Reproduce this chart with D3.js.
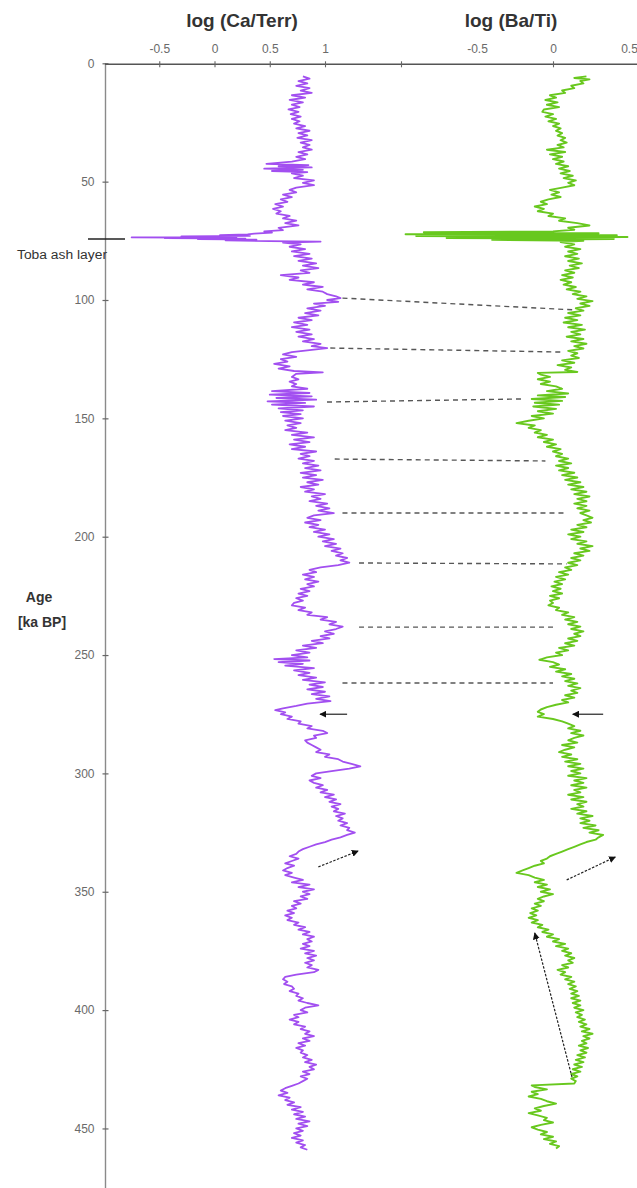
<!DOCTYPE html>
<html>
<head>
<meta charset="utf-8">
<script src="https://cdn.jsdelivr.net/npm/d3@7"></script>
<style>
  html, body { margin: 0; padding: 0; background: #fff; }
  svg { display: block; }
  text { font-family: "Liberation Sans", Arial, sans-serif; }
</style>
</head>
<body>
<svg id="chart" width="637" height="1188"></svg>
<script>
// Age-depth profile of two XRF ratios: log(Ca/Terr) and log(Ba/Ti)
// Each record: [age (ka BP), log ratio]
const caTerr = [
  [5.5,0.80],[6.5,0.86],[7.5,0.76],[8.5,0.84],[9.5,0.74],[10.5,0.86],[11.5,0.78],[12.5,0.88],[13.5,0.70],[14.5,0.82],
  [15.5,0.68],[16.5,0.80],[17.5,0.70],[18.5,0.77],[19.5,0.67],[20.5,0.76],[21.5,0.69],[22.5,0.78],[23.5,0.70],[24.5,0.77],
  [25.5,0.72],[26.5,0.82],[27.5,0.74],[28.5,0.86],[29.5,0.76],[30.5,0.84],[31.5,0.75],[32.5,0.88],[33.5,0.78],[34.5,0.86],
  [35.5,0.80],[36.5,0.88],[37.5,0.76],[38.5,0.84],[39.5,0.74],[40.5,0.82],[41.5,0.70],[42.5,0.47],[43,0.85],[43.5,0.58],
  [44,0.88],[44.5,0.45],[45,0.80],[45.5,0.52],[46,0.84],[46.5,0.70],[47.5,0.80],[48.5,0.72],[49.5,0.90],[50.5,0.80],
  [51.5,0.90],[52.5,0.74],[53.5,0.68],[54.5,0.74],[55.5,0.62],[56.5,0.70],[57.5,0.60],[58.5,0.66],[59.5,0.55],[60.5,0.62],
  [61.5,0.53],[62.5,0.60],[63.5,0.56],[64.5,0.68],[65.5,0.62],[66.5,0.74],[67.5,0.64],[68.5,0.76],[69.5,0.58],[70.5,0.62],
  [71,0.45],[71.5,0.52],[72,0.36],[72.3,0.30],[72.6,0.05],[72.9,0.32],[73.1,-0.30],[73.3,0.20],[73.5,-0.75],[73.7,0.10],
  [73.9,-0.45],[74.1,0.28],[74.3,-0.15],[74.5,0.38],[74.8,0.10],[75.1,0.50],[75.3,0.96],
  [75.8,0.62],[76.5,0.78],[77.5,0.68],[78.5,0.82],[79.5,0.70],[80.5,0.86],[81.5,0.72],[82.5,0.88],[83.5,0.76],[84.5,0.92],
  [85.5,0.80],[86.5,0.94],[87.5,0.78],[88.5,0.86],[89.5,0.60],[90.5,0.76],[91.5,0.68],[92.5,0.90],[93.5,0.80],[94.5,0.98],
  [95.5,0.84],[96.5,0.98],[97.5,1.02],[98.5,1.10],[99.2,1.14],[100,1.02],[100.8,1.12],[101.5,0.90],[102.5,1.00],[103.5,0.84],
  [104.5,0.96],[105.5,0.82],[106.5,0.94],[107.5,0.76],[108.5,0.88],[109.5,0.72],[110.5,0.84],[111.5,0.70],[112.5,0.86],[113.5,0.74],
  [114.5,0.88],[115.5,0.76],[116.5,0.90],[117.5,0.80],[118.5,0.96],[119.5,0.88],[120.3,1.02],[121,0.90],[122,0.70],[123,0.62],
  [124,0.74],[125,0.60],[126,0.66],[127,0.54],[128,0.68],[129,0.58],[130,0.72],[130.6,0.98],[131.2,0.74],[132.5,0.70],
  [133.5,0.76],[134.5,0.68],[135.5,0.74],[136.5,0.70],[137.5,0.84],[138.5,0.52],[139.3,0.86],[140,0.50],[140.7,0.88],[141.4,0.56],
  [142.1,0.92],[142.8,0.48],[143.5,0.82],[144.2,0.52],[145,0.90],[145.8,0.58],[146.6,0.80],[147.4,0.60],[148.2,0.78],[149,0.62],
  [150,0.80],[151,0.64],[152,0.78],[153,0.66],[154,0.74],[155,0.64],[156,0.84],[157,0.70],[158,0.90],[159,0.72],
  [160,0.86],[161,0.68],[162,0.82],[163,0.70],[164,0.92],[165,0.78],[166,0.86],[167,0.76],[168,0.90],[169,0.80],
  [170,0.94],[171,0.82],[172,0.96],[173,0.78],[174,0.92],[175,0.80],[176,0.98],[177,0.84],[178,0.94],[179,0.78],
  [180,0.90],[181,0.82],[182,1.00],[183,0.88],[184,0.96],[185,0.86],[186,1.02],[187,0.92],[188,1.04],[189,0.94],
  [190,1.08],[191,0.90],[192,0.84],[193,0.96],[194,0.82],[195,0.94],[196,0.86],[197,1.00],[198,0.90],[199,1.04],
  [200,0.94],[201,1.08],[202,0.98],[203,1.10],[204,1.00],[205,1.14],[206,1.06],[207,1.16],[208,1.10],[209,1.20],
  [210,1.14],[211,1.22],[212,1.12],[213,0.96],[214,0.86],[215,0.92],[216,0.80],[217,0.90],[218,0.82],[219,0.94],
  [220,0.84],[221,0.90],[222,0.78],[223,0.86],[224,0.76],[225,0.84],[226,0.74],[227,0.80],[228,0.72],[229,0.70],
  [230,0.82],[231,0.76],[232,0.88],[233,0.84],[234,1.02],[235,0.96],[236,1.10],[237,1.04],[238,1.16],[239,1.10],
  [240,1.00],[241,1.08],[242,0.96],[243,1.04],[244,0.88],[245,0.98],[246,0.80],[247,0.92],[248,0.74],[249,0.86],
  [250,0.70],[251,0.84],[251.7,0.54],[252.3,0.86],[253,0.58],[253.7,0.80],[254.5,0.64],[255.5,0.90],[256.5,0.72],[257.5,0.86],
  [258.5,0.76],[259.5,0.92],[260.5,0.80],[261.5,1.00],[262.5,0.86],[263.5,0.98],[264.5,0.84],[265.5,1.00],[266.5,0.88],[267.5,1.04],
  [268.5,0.92],[269.5,1.05],[270.5,0.84],[271.5,0.74],[272.5,0.62],[273.3,0.55],[274.2,0.64],[275,0.60],[276,0.70],[277,0.66],
  [278,0.78],[279,0.76],[280,0.88],[281,0.84],[282,0.98],[283,1.02],[284,0.90],[285,0.92],[286,0.82],[287,0.84],
  [288,0.88],[289,0.92],[290,0.96],[291,0.92],[292,1.04],[293,1.00],[294,1.12],[295,1.16],[296,1.24],[297,1.32],
  [298,1.22],[299,1.06],[300,0.92],[301,0.88],[302,0.96],[303,0.86],[304,0.90],[305,0.98],[306,0.92],[307,1.02],
  [308,0.96],[309,1.08],[310,1.00],[311,1.10],[312,1.04],[313,1.14],[314,1.06],[315,1.12],[316,1.08],[317,1.18],
  [318,1.10],[319,1.16],[320,1.12],[321,1.20],[322,1.14],[323,1.22],[324,1.20],[325,1.27],[326,1.20],[327,1.14],
  [328,1.06],[329,1.00],[330,0.92],[331,0.86],[332,0.80],[333,0.76],[334,0.74],[335,0.68],[336,0.76],[337,0.70],
  [338,0.64],[339,0.72],[340,0.66],[341,0.62],[342,0.70],[343,0.64],[344,0.72],[345,0.80],[346,0.70],[347,0.86],
  [348,0.76],[349,0.90],[350,0.80],[351,0.86],[352,0.78],[353,0.84],[354,0.72],[355,0.78],[356,0.70],[357,0.74],
  [358,0.66],[359,0.72],[360,0.64],[361,0.70],[362,0.66],[363,0.76],[364,0.72],[365,0.82],[366,0.76],[367,0.86],
  [368,0.80],[369,0.90],[370,0.84],[371,0.88],[372,0.80],[373,0.86],[374,0.78],[375,0.90],[376,0.82],[377,0.92],
  [378,0.84],[379,0.90],[380,0.82],[381,0.88],[382,0.84],[383,0.94],[384,0.90],[385,0.74],[386,0.64],[387,0.62],
  [388,0.66],[389,0.63],[390,0.70],[391,0.72],[392,0.68],[393,0.76],[394,0.74],[395,0.80],[396,0.76],[397,0.84],
  [398,0.94],[399,0.82],[400,0.78],[401,0.84],[402,0.72],[403,0.76],[404,0.68],[405,0.76],[406,0.72],[407,0.82],
  [408,0.78],[409,0.86],[410,0.82],[411,0.90],[412,0.80],[413,0.86],[414,0.76],[415,0.82],[416,0.74],[417,0.80],
  [418,0.78],[419,0.84],[420,0.80],[421,0.88],[422,0.82],[423,0.92],[424,0.86],[425,0.90],[426,0.80],[427,0.86],
  [428,0.78],[429,0.84],[430,0.80],[431,0.76],[432,0.70],[433,0.64],[434,0.60],[435,0.66],[436,0.58],[437,0.68],
  [438,0.64],[439,0.72],[440,0.66],[441,0.78],[442,0.70],[443,0.80],[444,0.72],[445,0.82],[446,0.74],[447,0.86],
  [448,0.76],[449,0.84],[450,0.74],[451,0.80],[452,0.72],[453,0.78],[454,0.70],[455,0.80],[456,0.74],[457,0.82],
  [458,0.78],[459,0.84]
];

const baTi = [
  [5.5,0.22],[6.2,0.14],[6.8,0.24],[7.5,0.18],[8.5,0.20],[9.5,0.12],[10.5,0.14],[11.5,0.06],[12.5,0.08],[13.5,-0.02],
  [14.5,0.02],[15.5,-0.05],[16.5,0.03],[17.5,-0.04],[18.5,0.04],[19.5,-0.06],[20.5,-0.07],[21.5,0.00],[22.5,-0.05],[23.5,0.02],
  [24.5,-0.03],[25.5,0.04],[26.5,0.00],[27.5,0.05],[28.5,0.02],[29.5,0.06],[30.5,0.03],[31.5,0.08],[32.5,0.05],[33.5,0.09],
  [34.5,0.03],[35.5,0.07],[36.5,-0.04],[37.5,0.08],[38.5,-0.02],[39.5,0.06],[40.5,0.00],[41.5,0.07],[42.5,0.02],[43.5,0.10],
  [44.5,0.04],[45.5,0.11],[46.5,0.05],[47.5,0.13],[48.5,0.07],[49.5,0.15],[50.5,0.10],[51.5,0.14],[52.5,0.06],[53.5,-0.02],
  [54.5,0.04],[55.5,-0.01],[56.5,0.05],[57.5,-0.03],[58.5,-0.08],[59.5,-0.04],[60.5,-0.12],[61.5,-0.06],[62.5,-0.10],[63.5,0.00],
  [64.5,-0.03],[65.5,0.08],[66.5,0.04],[67.5,0.16],[68.5,0.24],[69.5,0.10],[70.3,0.14],[71,0.00],[71.4,-0.85],[71.8,0.30],
  [72.2,-0.97],[72.6,0.42],[73,-0.90],[73.4,0.49],[73.8,-0.70],[74.2,0.40],[74.6,-0.40],[75,0.20],[75.5,0.05],[76.5,0.14],
  [77.5,0.08],[78.5,0.18],[79.5,0.10],[80.5,0.16],[81.5,0.08],[82.5,0.17],[83.5,0.10],[84.5,0.19],[85.5,0.11],[86.5,0.17],
  [87.5,0.08],[88.5,0.14],[89.5,0.06],[90.5,0.13],[91.5,0.05],[92.5,0.12],[93.5,0.07],[94.5,0.15],[95.5,0.09],[96.5,0.18],
  [97.5,0.13],[98.5,0.22],[99.5,0.16],[100.5,0.26],[101.5,0.18],[102.5,0.24],[103.5,0.15],[104.5,0.20],[105.5,0.10],[106.5,0.18],
  [107.5,0.08],[108.5,0.16],[109.5,0.07],[110.5,0.19],[111.5,0.10],[112.5,0.21],[113.5,0.12],[114.5,0.18],[115.5,0.09],[116.5,0.20],
  [117.5,0.12],[118.5,0.22],[119.5,0.14],[120.5,0.20],[121.5,0.10],[122.5,0.16],[123.5,0.12],[124.5,0.17],[125.5,0.06],[126.5,0.14],
  [127.5,0.03],[128.5,0.12],[129.5,0.08],[130.4,0.16],[130.8,-0.10],[131.5,-0.08],[132.5,-0.02],[133.5,-0.10],[134.5,-0.02],[135.5,-0.08],
  [136.5,0.02],[137.5,0.06],[138.5,-0.04],[139.5,0.10],[140.3,-0.10],[141,0.08],[141.8,-0.14],[142.6,0.06],[143.4,-0.12],[144.2,0.04],
  [145,-0.13],[146,0.02],[147,-0.10],[148,0.00],[149,-0.14],[150,-0.06],[151,-0.16],[152,-0.24],[153,-0.12],[154,-0.16],
  [155,-0.08],[156,-0.12],[157,-0.04],[158,-0.10],[159,0.00],[160,-0.06],[161,0.02],[162,-0.04],[163,0.05],[164,0.00],
  [165,0.06],[166,0.02],[167,0.10],[168,0.04],[169,0.12],[170,0.02],[171,0.10],[172,0.04],[173,0.14],[174,0.06],
  [175,0.16],[176,0.08],[177,0.18],[178,0.10],[179,0.20],[180,0.12],[181,0.22],[182,0.14],[183,0.24],[184,0.16],
  [185,0.22],[186,0.14],[187,0.22],[188,0.16],[189,0.24],[190,0.18],[191,0.22],[192,0.26],[193,0.20],[194,0.25],
  [195,0.16],[196,0.22],[197,0.12],[198,0.20],[199,0.10],[200,0.18],[201,0.12],[202,0.22],[203,0.16],[204,0.26],
  [205,0.18],[206,0.24],[207,0.14],[208,0.20],[209,0.12],[210,0.18],[211,0.10],[212,0.16],[213,0.08],[214,0.12],
  [215,0.04],[216,0.10],[217,0.02],[218,0.08],[219,0.01],[220,0.06],[221,-0.01],[222,0.05],[223,0.00],[224,0.06],
  [225,-0.02],[226,0.04],[227,-0.02],[228,0.00],[229,-0.03],[230,0.04],[231,0.02],[232,0.10],[233,0.06],[234,0.14],
  [235,0.08],[236,0.16],[237,0.10],[238,0.18],[239,0.12],[240,0.20],[241,0.14],[242,0.18],[243,0.10],[244,0.16],
  [245,0.08],[246,0.14],[247,0.04],[248,0.10],[249,0.02],[250,0.06],[251,-0.04],[252,-0.09],[253,0.00],[254,0.04],
  [255,-0.02],[256,0.08],[257,0.02],[258,0.12],[259,0.06],[260,0.14],[261,0.08],[262,0.16],[263,0.10],[264,0.18],
  [265,0.12],[266,0.16],[267,0.08],[268,0.14],[269,0.06],[270,0.10],[271,0.02],[272,-0.04],[273,-0.08],[274,-0.10],
  [275,-0.06],[276,-0.10],[277,0.00],[278,0.06],[279,0.10],[280,0.14],[281,0.10],[282,0.18],[283,0.12],[284,0.20],
  [285,0.14],[286,0.10],[287,0.16],[288,0.06],[289,0.14],[290,0.08],[291,0.04],[292,0.12],[293,0.06],[294,0.16],
  [295,0.08],[296,0.18],[297,0.10],[298,0.20],[299,0.12],[300,0.18],[301,0.10],[302,0.22],[303,0.14],[304,0.20],
  [305,0.12],[306,0.22],[307,0.14],[308,0.18],[309,0.10],[310,0.20],[311,0.12],[312,0.22],[313,0.16],[314,0.20],
  [315,0.12],[316,0.22],[317,0.16],[318,0.26],[319,0.18],[320,0.24],[321,0.18],[322,0.28],[323,0.20],[324,0.30],
  [325,0.24],[326,0.33],[327,0.30],[328,0.28],[329,0.22],[330,0.18],[331,0.14],[332,0.10],[333,0.06],[334,0.02],
  [335,-0.02],[336,-0.04],[337,-0.08],[338,-0.06],[339,-0.12],[340,-0.16],[341,-0.20],[342,-0.24],[343,-0.16],[344,-0.12],
  [345,-0.06],[346,-0.12],[347,-0.04],[348,-0.10],[349,-0.02],[350,-0.08],[351,0.00],[352,-0.06],[353,-0.10],[354,-0.06],
  [355,-0.12],[356,-0.08],[357,-0.14],[358,-0.10],[359,-0.15],[360,-0.11],[361,-0.16],[362,-0.10],[363,-0.14],[364,-0.07],
  [365,-0.10],[366,-0.03],[367,-0.07],[368,0.00],[369,-0.04],[370,0.04],[371,0.00],[372,0.08],[373,0.02],[374,0.10],
  [375,0.06],[376,0.12],[377,0.08],[378,0.14],[379,0.10],[380,0.13],[381,0.06],[382,0.10],[383,0.03],[384,0.08],
  [385,0.05],[386,0.12],[387,0.08],[388,0.14],[389,0.10],[390,0.15],[391,0.11],[392,0.16],[393,0.12],[394,0.17],
  [395,0.12],[396,0.18],[397,0.13],[398,0.18],[399,0.14],[400,0.20],[401,0.15],[402,0.19],[403,0.16],[404,0.21],
  [405,0.17],[406,0.22],[407,0.18],[408,0.24],[409,0.19],[410,0.26],[411,0.20],[412,0.24],[413,0.19],[414,0.22],
  [415,0.17],[416,0.23],[417,0.18],[418,0.22],[419,0.16],[420,0.21],[421,0.15],[422,0.20],[423,0.14],[424,0.19],
  [425,0.13],[426,0.18],[427,0.12],[428,0.16],[429,0.12],[430,0.15],[431,0.14],[431.8,-0.14],[432.5,-0.12],[433.5,-0.04],
  [434.5,-0.14],[435.5,-0.10],[436.5,-0.16],[437.5,-0.08],[438.5,-0.04],[439.5,0.02],[440.5,-0.06],[441.5,-0.12],[442.5,-0.08],[443.5,-0.16],
  [444.5,-0.10],[445.5,-0.04],[446.5,-0.06],[447.5,0.00],[448.5,-0.08],[449.5,-0.14],[450.5,-0.10],[451.5,-0.04],[452.5,-0.08],[453.5,0.00],
  [454.5,-0.06],[455.5,0.02],[456.5,-0.02],[457.5,0.04],[458.5,0.02]
];

// Axis ticks and labels
const ageTicks = [0, 50, 100, 150, 200, 250, 300, 350, 400, 450];
const caTicks = [-0.5, 0, 0.5, 1];
const baTickMarks = [-1, 0];
const baTickLabels = [-0.5, 0, 0.5];
const tobaAge = 74.2;

// Correlation tie lines: [ageCa, caValue, ageBa, baValue]
const tieLines = [
  [99.2, 1.14, 104.2, 0.145],
  [120.3, 1.03, 122.0, 0.066],
  [143.1, 1.00, 141.8, -0.20],
  [167.2, 1.07, 168.0, -0.05],
  [190.0, 1.14, 190.0, 0.08],
  [211.1, 1.29, 211.5, 0.09],
  [238.2, 1.29, 238.2, 0.013],
  [261.8, 1.14, 261.8, 0.0]
];

// Arrows: [series, ageFrom, valueFrom, ageTo, valueTo, dashed]
const arrows = [
  ["ca", 275.0, 1.20, 275.0, 0.955, false],
  ["ba", 275.0, 0.33, 275.0, 0.13, false],
  ["ca", 339.5, 0.94, 332.8, 1.30, true],
  ["ba", 345.0, 0.09, 335.3, 0.41, true],
  ["ba", 428.3, 0.125, 367.4, -0.12, true]
];

const svg = d3.select("#chart");
svg.append("rect").attr("width", 637).attr("height", 1188).attr("fill", "#fff");

const y = d3.scaleLinear().domain([0, 475]).range([63.3, 63.3 + 2.367 * 475]);
const xCa = d3.scaleLinear().domain([-1, 1]).range([104, 325]);
const xBa = d3.scaleLinear().domain([-1, 0.5]).range([401, 629]);
const xOf = s => (s === "ca" ? xCa : xBa);

const axisColor = "#666";
const labelColor = "#6a6a6a";

// Arrowhead marker
const defs = svg.append("defs");
defs.append("marker")
  .attr("id", "head")
  .attr("viewBox", "0 0 10 10")
  .attr("refX", 9).attr("refY", 5)
  .attr("markerWidth", 7).attr("markerHeight", 7)
  .attr("markerUnits", "userSpaceOnUse")
  .attr("orient", "auto")
  .append("path").attr("d", "M0,0L10,5L0,10z").attr("fill", "#111");

// Left age axis
svg.append("line")
  .attr("x1", 105.5).attr("x2", 105.5)
  .attr("y1", y(0)).attr("y2", 1188)
  .attr("stroke", "#8a8a8a").attr("stroke-width", 1.4);

const gy = svg.append("g").attr("transform", "translate(105.5,0)")
  .call(d3.axisLeft(y).tickValues(ageTicks).tickSize(3).tickPadding(8).tickFormat(d => String(d)));
gy.select(".domain").remove();
gy.selectAll(".tick line").attr("x1", 3).attr("stroke", axisColor).attr("stroke-width", 1.2);

// Top value axis baseline
const topY = y(0) + 1;
svg.append("line")
  .attr("x1", 105).attr("x2", 637)
  .attr("y1", topY).attr("y2", topY)
  .attr("stroke", "#555").attr("stroke-width", 1.5);

const gCa = svg.append("g").attr("transform", `translate(0,${topY})`)
  .call(d3.axisTop(xCa).tickValues(caTicks).tickSize(3).tickPadding(8).tickFormat(d => String(d)));
gCa.select(".domain").remove();
gCa.selectAll(".tick line").attr("y1", 3).attr("stroke", axisColor).attr("stroke-width", 1.1);

const gBaMarks = svg.append("g").attr("transform", `translate(0,${topY})`)
  .call(d3.axisTop(xBa).tickValues(baTickMarks).tickSize(3).tickFormat(() => ""));
gBaMarks.select(".domain").remove();
gBaMarks.selectAll(".tick line").attr("y1", 3).attr("stroke", axisColor).attr("stroke-width", 1.1);

const gBa = svg.append("g").attr("transform", `translate(0,${topY})`)
  .call(d3.axisTop(xBa).tickValues(baTickLabels).tickSize(0).tickPadding(11).tickFormat(d => String(d)));
gBa.select(".domain").remove();
gBa.selectAll(".tick line").remove();

svg.selectAll(".tick text").attr("fill", labelColor).attr("font-size", 12)
  .attr("font-family", "'Liberation Sans', Arial, sans-serif");

// Axis titles
svg.append("text").attr("x", 242).attr("y", 27).attr("text-anchor", "middle")
  .attr("font-size", 19).attr("font-weight", "bold").attr("fill", "#333")
  .text("log (Ca/Terr)");
svg.append("text").attr("x", 511).attr("y", 27).attr("text-anchor", "middle")
  .attr("font-size", 19).attr("font-weight", "bold").attr("fill", "#333")
  .text("log (Ba/Ti)");
svg.append("text").attr("x", 39).attr("y", 602).attr("text-anchor", "middle")
  .attr("font-size", 14).attr("font-weight", "bold").attr("fill", "#333")
  .text("Age");
svg.append("text").attr("x", 42).attr("y", 627).attr("text-anchor", "middle")
  .attr("font-size", 14).attr("font-weight", "bold").attr("fill", "#333")
  .text("[ka BP]");

// Toba ash layer marker
svg.append("line")
  .attr("x1", 88).attr("x2", 125)
  .attr("y1", y(tobaAge)).attr("y2", y(tobaAge))
  .attr("stroke", "#222").attr("stroke-width", 1.4);
svg.append("text").attr("x", 17).attr("y", y(tobaAge) + 20)
  .attr("font-size", 12).attr("fill", "#333")
  .attr("textLength", 90).attr("lengthAdjust", "spacingAndGlyphs")
  .text("Toba ash layer");

// Tie lines between the two records
svg.append("g").selectAll("line").data(tieLines).join("line")
  .attr("x1", d => xCa(d[1]) + 2).attr("y1", d => y(d[0]))
  .attr("x2", d => xBa(d[3])).attr("y2", d => y(d[2]))
  .attr("stroke", "#3a3a3a").attr("stroke-width", 1.4)
  .attr("stroke-dasharray", "5,4").attr("opacity", 0.85);

// The two records
const lineCa = d3.line().x(d => xCa(d[1])).y(d => y(d[0]));
const lineBa = d3.line().x(d => xBa(d[1])).y(d => y(d[0]));

svg.append("path").datum(caTerr)
  .attr("d", lineCa).attr("fill", "none")
  .attr("stroke", "#a24ff0").attr("stroke-width", 1.8)
  .attr("stroke-linejoin", "round");

svg.append("path").datum(baTi)
  .attr("d", lineBa).attr("fill", "none")
  .attr("stroke", "#68c81e").attr("stroke-width", 1.9)
  .attr("stroke-linejoin", "round");

// Arrows
svg.append("g").selectAll("line").data(arrows).join("line")
  .attr("x1", d => xOf(d[0])(d[2])).attr("y1", d => y(d[1]))
  .attr("x2", d => xOf(d[0])(d[4])).attr("y2", d => y(d[3]))
  .attr("stroke", "#222").attr("stroke-width", 1.2)
  .attr("stroke-dasharray", d => (d[5] ? "2.5,1.5" : null))
  .attr("marker-end", "url(#head)");
</script>
</body>
</html>
